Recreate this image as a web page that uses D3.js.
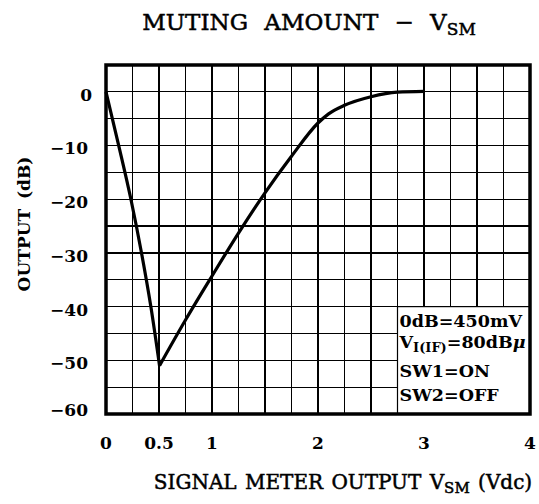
<html>
<head>
  <style>
  body { margin: 0; background: #fff; }
  #chart text { fill: #000; font-family: "DejaVu Serif", serif; }
  .grid line { stroke: #000; stroke-width: 1.2; shape-rendering: crispEdges; }
  .tick-label { font-size: 17px; font-weight: bold; }
  .legend text { font-size: 17.5px; font-weight: bold; }
  .heavy { stroke: #000; stroke-width: 0.5; }
  </style>
  <script src="https://d3js.org/d3.v7.min.js"></script>
</head>
<body>
  <svg id="chart"></svg>
</body>
  <script>
  // curve, split at the sharp minimum
  var fallX = [0, 0.12, 0.235, 0.335, 0.423, 0.505];
  var fallY = [0, -10, -20, -30, -40, -51];
  var riseX = [0.505, 0.75, 1.0, 1.25, 1.5, 1.75, 2.0, 2.1, 2.25, 2.5, 2.75, 3.0];
  var riseY = [-51, -42.5, -34.3, -26.3, -18.8, -12.0, -5.8, -4.1, -2.5, -0.9, -0.05, 0.1];
  // axis ticks
  var xTicks = [0, 0.5, 1, 2, 3, 4];
  var xTickLabels = ["0", "0.5", "1", "2", "3", "4"];
  var yTicks = [0, -10, -20, -30, -40, -50, -60];
  var yTickLabels = ["0", "\u221210", "\u221220", "\u221230", "\u221240", "\u221250", "\u221260"];
  // conditions box
  var notes = ["0dB=450mV", "VI(IF)=80dB\u03bc", "SW1=ON", "SW2=OFF"];

  var width = 539, height = 504;
  var x = d3.scaleLinear().domain([0, 4]).range([106, 530]);
  var y = d3.scaleLinear().domain([-60, 5]).range([414, 65]);

  var svg = d3.select("#chart").attr("width", width).attr("height", height);

  // grid: 0.25 V columns, 5 dB rows
  var grid = svg.append("g").attr("class", "grid");
  grid.selectAll("line.v")
      .data(d3.range(1, 16).map(function(i) { return i * 0.25; }))
    .enter().append("line")
      .attr("x1", x).attr("x2", x)
      .attr("y1", y(5)).attr("y2", y(-60));
  grid.selectAll("line.h")
      .data(d3.range(1, 13).map(function(i) { return -60 + i * 5; }))
    .enter().append("line")
      .attr("y1", y).attr("y2", y)
      .attr("x1", x(0)).attr("x2", x(4));

  // the curve
  function pts(xs, ys) { return xs.map(function(d, i) { return [d, ys[i]]; }); }
  var line = d3.line()
      .x(function(d) { return x(d[0]); })
      .y(function(d) { return y(d[1]); })
      .curve(d3.curveMonotoneX);
  [pts(fallX, fallY), pts(riseX, riseY)].forEach(function(p) {
    svg.append("path")
        .attr("d", line(p))
        .attr("fill", "none")
        .attr("stroke", "#000")
        .attr("stroke-width", 3.2)
        .attr("stroke-linejoin", "round");
  });

  // conditions box
  var legend = svg.append("g").attr("class", "legend");
  legend.append("rect")
      .attr("x", x(2.75)).attr("y", y(-40))
      .attr("width", x(4) - x(2.75)).attr("height", y(-60) - y(-40))
      .attr("fill", "#fff").attr("stroke", "#000").attr("stroke-width", 1.2);
  var noteY = [327, 348, 377, 401];
  notes.forEach(function(n, i) {
    var t = legend.append("text").attr("x", x(2.75) + 2).attr("y", noteY[i]);
    if (i === 1) {
      t.append("tspan").text("V");
      t.append("tspan").attr("dy", 4).style("font-size", "13px").text("I(IF)");
      t.append("tspan").attr("dy", -4).text("=80dB");
      t.append("tspan").style("font-style", "italic").text("\u03bc");
    } else {
      t.text(n);
    }
  });

  // frame
  svg.append("rect")
      .attr("x", x(0)).attr("y", y(5))
      .attr("width", x(4) - x(0)).attr("height", y(-60) - y(5))
      .attr("fill", "none").attr("stroke", "#000").attr("stroke-width", 3.5);

  // tick labels
  svg.selectAll("text.xt")
      .data(xTicks)
    .enter().append("text")
      .attr("class", "tick-label")
      .attr("x", x)
      .attr("y", 449)
      .attr("text-anchor", "middle")
      .text(function(d, i) { return xTickLabels[i]; });
  svg.selectAll("text.yt")
      .data(yTicks)
    .enter().append("text")
      .attr("class", "tick-label")
      .attr("x", function(d) { return d === 0 ? 92 : 88; })
      .attr("y", function(d) { return y(d) + (d === -60 ? -4 : 3); })
      .attr("dy", ".35em")
      .attr("text-anchor", "end")
      .text(function(d, i) { return yTickLabels[i]; });

  // title
  var title = svg.append("text")
      .attr("class", "heavy")
      .attr("x", 309).attr("y", 30)
      .attr("text-anchor", "middle")
      .style("font-size", "23px")
      .style("word-spacing", "9px");
  title.append("tspan").text("MUTING AMOUNT \u2212 V");
  title.append("tspan").attr("dy", 5).style("font-size", "17px").text("SM");

  // axis titles
  var xt = svg.append("text")
      .attr("class", "heavy")
      .attr("x", 343).attr("y", 489)
      .attr("text-anchor", "middle")
      .style("font-size", "20px")
      .style("word-spacing", "2px");
  xt.append("tspan").text("SIGNAL METER OUTPUT V");
  xt.append("tspan").attr("dy", 4).style("font-size", "15px").text("SM");
  xt.append("tspan").attr("dy", -4).text(" (Vdc)");

  svg.append("text")
      .attr("transform", "translate(30,224) rotate(-90)")
      .attr("text-anchor", "middle")
      .style("font-size", "17px")
      .style("font-weight", "bold")
      .style("word-spacing", "4px")
      .text("OUTPUT (dB)");
  </script>
</html>
